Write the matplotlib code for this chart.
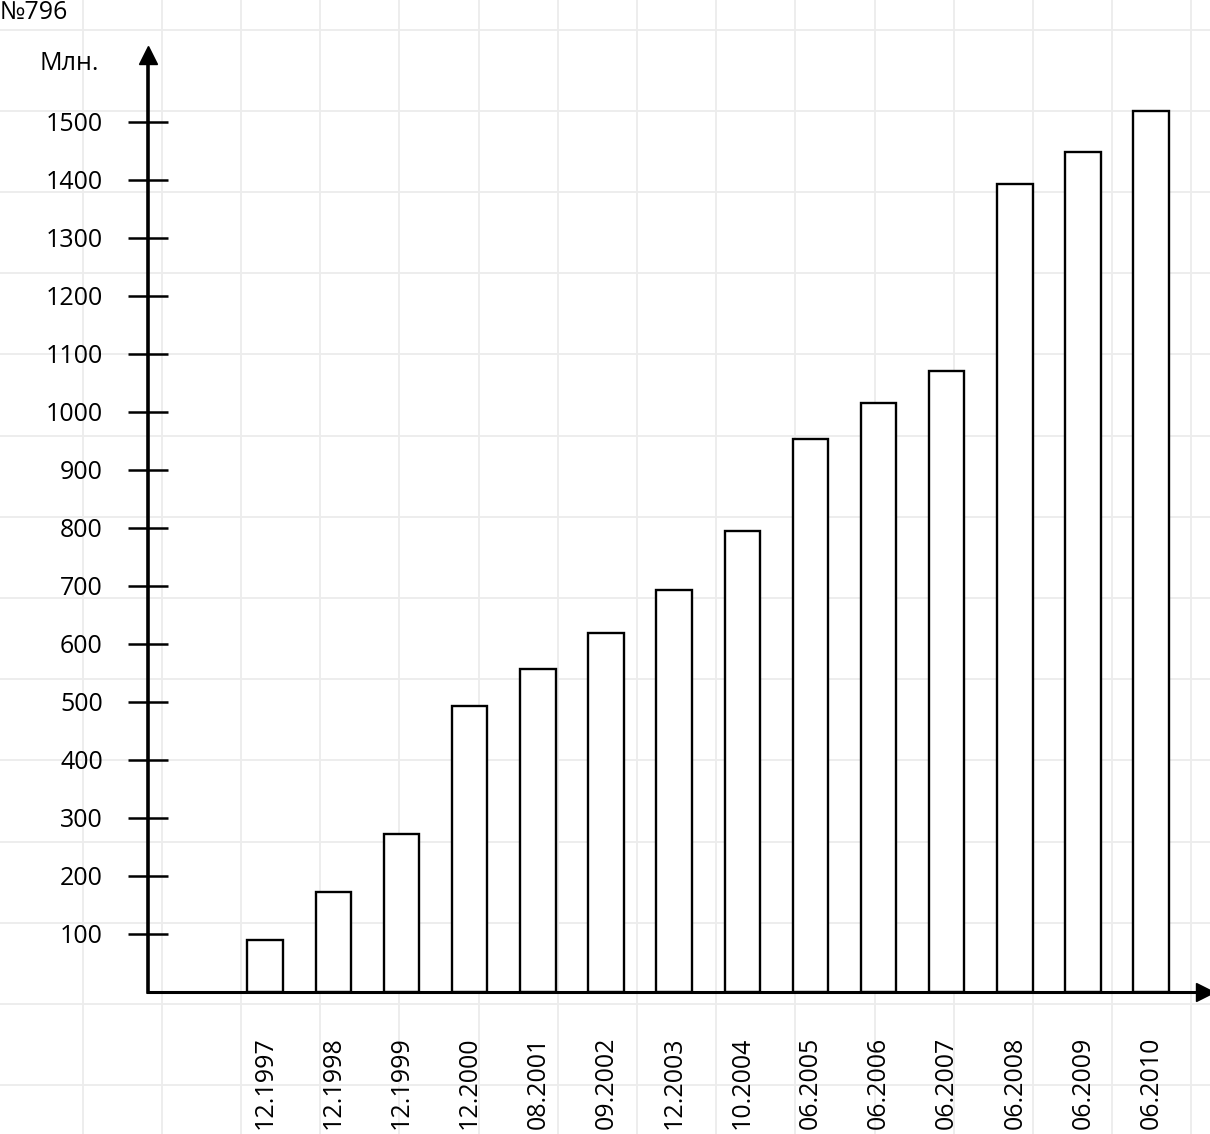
import matplotlib
matplotlib.use("Agg")
import matplotlib.pyplot as plt
import numpy as np

# Data (millions of users)
dates = ['12.1997', '12.1998', '12.1999', '12.2000', '08.2001', '09.2002', '12.2003',
         '10.2004', '06.2005', '06.2006', '06.2007', '06.2008', '06.2009', '06.2010']
users = [90, 173, 273, 493, 556, 619, 693, 795, 953, 1016, 1070, 1392, 1447, 1518]
yticks = list(range(100, 1501, 100))

W, H = 1210, 1134
plt.rcParams['font.family'] = ['Open Sans', 'DejaVu Sans']
FS = 18

fig = plt.figure(figsize=(W / 100, H / 100), dpi=100)

# faint paper grid behind everything
bg = fig.add_axes([0, 0, 1, 1], zorder=-1)
bg.set_xlim(0, W)
bg.set_ylim(H, 0)
bg.axis('off')
for gx in np.arange(241 - 2 * 79.2, W, 79.2):
    bg.axvline(gx, color='#ececec', lw=1.3)
for gy in np.arange(192 - 2 * 81.2, H, 81.2):
    bg.axhline(gy, color='#ececec', lw=1.3)

# main axes: y axis at x=148px, x axis at y=992px
ax = fig.add_axes([148 / W, (H - 992) / H, 1057 / W, 937 / H])
ax.patch.set_alpha(0)

x = np.arange(len(dates))
ax.bar(x, users, width=0.52, color='white', edgecolor='black', linewidth=1.7, zorder=2)

ax.set_xlim(-1.72, 13.79)
ax.set_ylim(0, 1615)

for s in ['top', 'right']:
    ax.spines[s].set_visible(False)
ax.spines['left'].set_linewidth(2.6)
ax.spines['bottom'].set_linewidth(2.2)
ax.spines['left'].set_zorder(3)
ax.spines['bottom'].set_zorder(3)

# arrow heads
ax.plot(1, 0, marker='>', color='black', ms=13, transform=ax.transAxes, clip_on=False, zorder=4)
ax.plot(0, 1, marker='^', color='black', ms=13, transform=ax.transAxes, clip_on=False, zorder=4)

ax.set_yticks(yticks)
ax.set_yticklabels([str(t) for t in yticks])
ax.tick_params(axis='y', direction='inout', length=29, width=1.8, labelsize=FS, pad=18)

ax.set_xticks(x)
ax.set_xticklabels(dates, rotation=90)
ax.tick_params(axis='x', length=0, labelsize=FS, pad=32)

fig.text(40 / W, 1 - 64 / H, 'Млн.', ha='left', va='center', fontsize=FS)
fig.text(0, 1, '№796', ha='left', va='top', fontsize=FS)

fig.savefig('out.png', dpi=100)
